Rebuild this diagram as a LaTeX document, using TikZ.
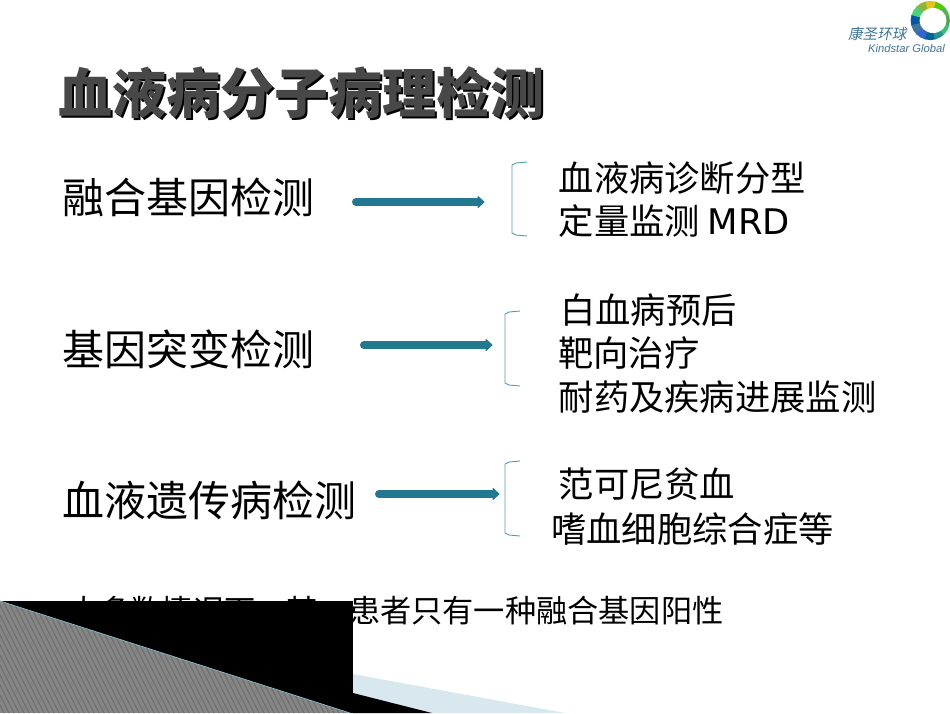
\documentclass[tikz,border=0pt]{standalone}
\usepackage{fontspec}
\newfontfamily\cjk{Noto Sans CJK SC}
\newfontfamily\latn{DejaVu Sans}
\newfontfamily\logolatn{Liberation Sans}
\usetikzlibrary{arrows}
\def\arrowcol{arrowteal}
\definecolor{arrowteal}{HTML}{21788F}
\definecolor{bracketblue}{HTML}{4F9DB5}
\definecolor{bandblue}{HTML}{D9E8EF}
\definecolor{titlegray}{HTML}{484848}
\definecolor{logoblue}{HTML}{3F759B}
\tikzset{
	topic/.style={anchor=west,inner sep=0pt,font=\cjk\fontsize{42}{42}\selectfont},
	detail/.style={anchor=west,inner sep=0pt,font=\cjk\fontsize{35.3}{35.3}\selectfont},
	titletext/.style={anchor=west,inner sep=0pt,font=\cjk\bfseries\fontsize{54}{54}\selectfont},
	link/.style={draw=\arrowcol,line width=8pt,line cap=round},
	linkhead/.style={fill=\arrowcol,draw=\arrowcol,line join=round,line width=1pt}
}
\newcommand{\sidemark}[3]{
	\draw [bracketblue,line width=0.9pt] (#1+15,#2) -- (#1+4,#2+1) -- (#1,#2+3)
		-- (#1,#3-3) -- (#1+4,#3-1) -- (#1+15,#3);}
\newcommand{\linkarrow}[2]{
	\draw [link] (#1) -- (#2);
	\path [linkhead] (#2) ++(0,-5.5) -- ++(6,5.5) -- ++(-6,5.5) -- cycle;}
\begin{document}
\begin{tikzpicture}[x=1pt,y=-1pt]
\useasboundingbox (0,0) rectangle (950,713);
% title
\node [titletext,black] (titleshadow) at (60,95) {血液病分子病理检测};
\node [titletext,titlegray] (titlemain) at (58,93) {血液病分子病理检测};
% logo
\foreach \a/\c in {0/green!50!black!70,30/green!60!black!70,60/green!60!yellow!80!black,90/yellow!70!orange!90!black,120/yellow!60!green!80!black,150/green!50!teal!70,180/teal!70!blue,210/logoblue,240/blue!50!teal!80,270/teal!80!blue,300/teal!85,330/green!40!teal!80}
	\fill [\c] (930.3,20.5) -- ++(-\a-16:19.6) arc (-\a-16:-\a+16:19.6) -- cycle;
\fill [white] (933,20.5) ellipse (13.5 and 12.5);
\node [anchor=west,inner sep=0pt,logoblue,font=\cjk\fontsize{14.6}{14.6}\selectfont,xslant=0.2] (logocn) at (849,33.5) {康圣环球};
\node [anchor=west,inner sep=0pt,logoblue,font=\logolatn\itshape\fontsize{11.2}{12}\selectfont] (logoen) at (868,48) {Kindstar Global};
% fusion genes
\node [topic] (fusion) at (62,197) {融合基因检测};
\coordinate (fusionfrom) at (356,202);
\coordinate (fusionto) at (478,202);
\linkarrow{fusionfrom}{fusionto}
\sidemark{512}{162}{236}
\node [detail] (fusiona) at (558.5,178) {血液病诊断分型};
\node [detail] (fusionb) at (558.5,221) {定量监测 {\latn MRD}};
% mutations
\node [topic] (mutation) at (62,349) {基因突变检测};
\coordinate (mutationfrom) at (364,345);
\coordinate (mutationto) at (486,345);
\linkarrow{mutationfrom}{mutationto}
\sidemark{505}{311}{386}
\node [detail] (mutationa) at (560,310) {白血病预后};
\node [detail] (mutationb) at (558,353) {靶向治疗};
\node [detail] (mutationc) at (558.5,397) {耐药及疾病进展监测};
% inherited
\node [topic] (inherited) at (62,500) {血液遗传病检测};
\coordinate (inheritedfrom) at (379,494);
\coordinate (inheritedto) at (493,494);
\linkarrow{inheritedfrom}{inheritedto}
\sidemark{505}{461}{536}
\node [detail] (inheriteda) at (558.5,484) {范可尼贫血};
\node [detail] (inheritedb) at (551,529) {嗜血细胞综合症等};
% bottom line
\node [anchor=west,inner sep=0pt,font=\cjk\fontsize{31.2}{31.2}\selectfont] (summary) at (68,611) {大多数情况下，某一患者只有一种融合基因阳性};
% corner
\fill [bandblue] (353,674) -- (565,713) -- (432,713) -- (353,693) -- cycle;
\fill [black] (0,601) rectangle (353,713);
\fill [black] (353,693) -- (432,713) -- (353,713) -- cycle;
\begin{scope}
	\clip (0,601) -- (350,713) -- (0,713) -- cycle;
	\fill [gray!95] (0,595) rectangle (353,713);
	\foreach \x in {-60,-55,...,350}
		\draw [black!56,line width=1.3pt] (\x,595) -- +(60,120);
\end{scope}
\draw [bracketblue!70!white,line width=0.7pt] (0,601) -- (350,713);
\end{tikzpicture}
\end{document}
